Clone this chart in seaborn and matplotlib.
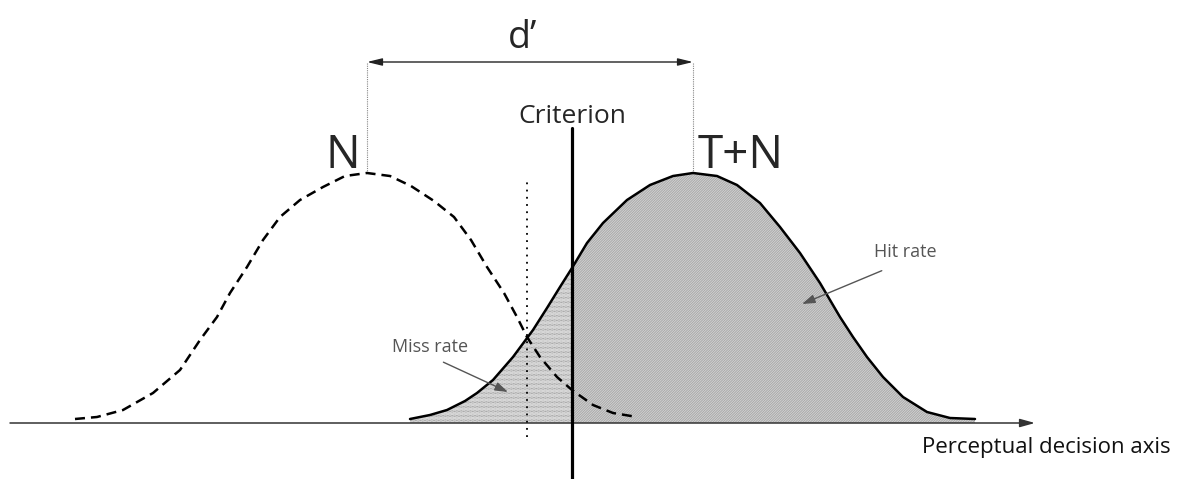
import numpy as np
import pandas as pd
import matplotlib
matplotlib.use("Agg")
import matplotlib.pyplot as plt
import seaborn as sns

# Noise (N) and signal+noise (T+N) distributions
# x: decision axis (N mean at 0), y: height above the axis
n_x = [-2.92, -2.70, -2.44, -2.14, -1.87, -1.67, -1.50, -1.37, -1.20, -1.04, -0.87, -0.67, -0.44, -0.22, 0.00,
       0.23, 0.44, 0.67, 0.87, 1.04, 1.20, 1.37, 1.50, 1.60, 1.73, 1.90, 2.05, 2.26, 2.46, 2.70]
n_y = [0.04, 0.06, 0.13, 0.30, 0.53, 0.83, 1.06, 1.30, 1.56, 1.83, 2.06, 2.23, 2.36, 2.47, 2.50,
       2.47, 2.37, 2.22, 2.06, 1.83, 1.56, 1.30, 1.06, 0.86, 0.66, 0.46, 0.33, 0.18, 0.10, 0.06]

tn_x = [0.43, 0.63, 0.80, 0.98, 1.10, 1.26, 1.46, 1.66, 1.80, 1.93, 2.05, 2.20, 2.36, 2.60, 2.83, 3.06, 3.26,
        3.50, 3.70, 3.93, 4.13, 4.33, 4.53, 4.73, 4.86, 5.00, 5.16, 5.36, 5.60, 5.83, 6.08]
tn_y = [0.04, 0.08, 0.13, 0.22, 0.30, 0.43, 0.66, 0.93, 1.15, 1.36, 1.55, 1.80, 2.00, 2.23, 2.38, 2.47, 2.50,
        2.47, 2.38, 2.20, 1.96, 1.70, 1.40, 1.06, 0.86, 0.66, 0.46, 0.26, 0.11, 0.05, 0.04]

n_mean = 0.0
tn_mean = 3.26
criterion = 2.05
alt_criterion = 1.60

df_n = pd.DataFrame({"x": n_x, "y": n_y})
df_tn = pd.DataFrame({"x": tn_x, "y": tn_y})

sns.set_style("white")
plt.rcParams["font.family"] = ["Open Sans", "DejaVu Sans"]
plt.rcParams["hatch.linewidth"] = 0.45

fig = plt.figure(figsize=(12, 4.79), dpi=100)
ax = fig.add_axes([0, 0, 1, 1])
ax.set_xlim(-3.67, 8.33)
ax.set_ylim(-0.56, 4.23)
ax.axis("off")

# shaded areas under T+N
miss = df_tn[df_tn.x <= criterion]
hit = df_tn[df_tn.x >= criterion]
ax.fill_between(miss.x, 0.0, miss.y, facecolor="white", edgecolor="#666666",
                linewidth=0, hatch="." * 13, zorder=1)
ax.fill_between(hit.x, 0.0, hit.y, facecolor="#f4f4f4", edgecolor="#8c8c8c",
                linewidth=0, hatch="/" * 20, zorder=1)

# curves
sns.lineplot(data=df_tn, x="x", y="y", ax=ax, color="black", lw=1.8,
             sort=False, estimator=None, zorder=3)
sns.lineplot(data=df_n, x="x", y="y", ax=ax, color="black", lw=1.8,
             sort=False, estimator=None, linestyle=(0, (4, 2.4)), zorder=3)

# decision axis
ax.annotate("", xy=(6.68, 0), xytext=(-3.57, 0),
            arrowprops=dict(arrowstyle="-|>,head_length=0.9,head_width=0.25",
                            color="#333333", lw=1.1, shrinkA=0, shrinkB=0), zorder=2)
ax.text(5.55, -0.30, "Perceptual decision axis", fontsize=16, ha="left",
        va="baseline", color="#111111")

# criterion lines
ax.plot([criterion, criterion], [-0.56, 2.95], color="black", lw=2.3, zorder=4)
ax.plot([alt_criterion, alt_criterion], [-0.14, 2.43], color="black", lw=1.3,
        linestyle=(0, (1, 3)), zorder=4)
ax.text(criterion, 3.00, "Criterion", fontsize=19, ha="center", va="baseline")

# d' bracket
ax.plot([n_mean, n_mean], [2.50, 3.61], color="#888888", lw=0.8, linestyle=(0, (1, 1)))
ax.plot([tn_mean, tn_mean], [2.50, 3.61], color="#888888", lw=0.8, linestyle=(0, (1, 1)))
ax.annotate("", xy=(tn_mean, 3.61), xytext=(n_mean, 3.61),
            arrowprops=dict(arrowstyle="<|-|>,head_length=0.9,head_width=0.22",
                            color="#222222", lw=1.0, shrinkA=0, shrinkB=0))
ax.text(1.56, 3.75, "d\u2019", fontsize=27, ha="center", va="baseline")

ax.text(n_mean - 0.07, 2.55, "N", fontsize=33, ha="right", va="baseline")
ax.text(tn_mean + 0.05, 2.55, "T+N", fontsize=33, ha="left", va="baseline")

# rate labels
ax.annotate("Hit rate", xy=(4.35, 1.19), xytext=(5.38, 1.66), fontsize=13,
            color="#555555", ha="center", va="baseline",
            arrowprops=dict(arrowstyle="-|>,head_length=0.6,head_width=0.2",
                            color="#555555", lw=1.0, shrinkA=12, shrinkB=0,
                            relpos=(0.5, 0)))
ax.annotate("Miss rate", xy=(1.41, 0.31), xytext=(0.63, 0.71), fontsize=13,
            color="#555555", ha="center", va="baseline",
            arrowprops=dict(arrowstyle="-|>,head_length=0.6,head_width=0.2",
                            color="#555555", lw=1.0, shrinkA=5, shrinkB=0,
                            relpos=(0.5, 0)))

fig.savefig("out.png", dpi=100, facecolor="white")
